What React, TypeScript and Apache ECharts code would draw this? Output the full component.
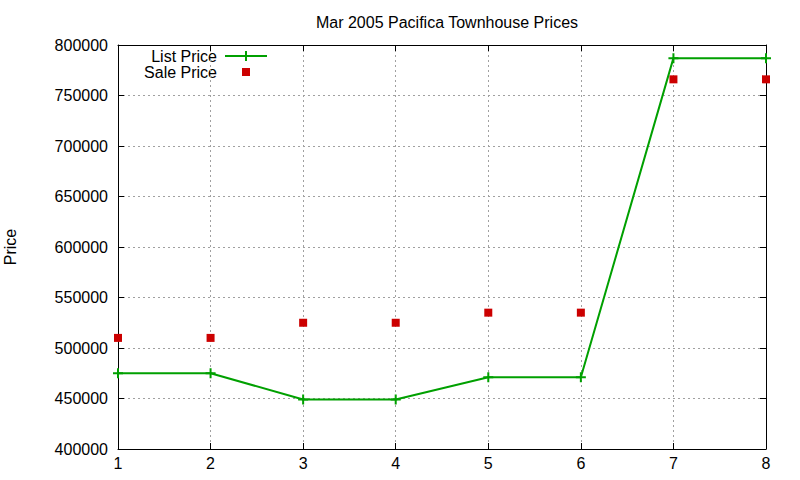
import { useEffect, useRef } from 'react'
import * as echarts from 'echarts'

const HOUSES = [1, 2, 3, 4, 5, 6, 7, 8]
const LIST_PRICE = [475000, 475000, 449000, 449000, 471000, 471000, 787000, 787000]
const SALE_PRICE = [510000, 510000, 525000, 525000, 535000, 535000, 766000, 766000]

const GREEN = '#00a000'
const RED   = '#cc0000'
const FONT  = '"Liberation Sans", Arial, sans-serif'
const PLUS  = 'path://M4,0H6V10H4Z M0,4H10V6H0Z'

export default function App() {
  const ref = useRef<HTMLDivElement>(null)

  useEffect(() => {
    if (!ref.current) return
    const chart = echarts.init(ref.current, undefined, { renderer: 'svg' })

    const gridLine = { show: true, lineStyle: { color: '#a0a0a0', type: [2, 3] as number[], width: 1 } }
    const label    = { color: '#000', fontSize: 16, fontFamily: FONT }
    const tick     = { show: true, inside: true, length: 6, lineStyle: { color: '#000' } }
    const border   = { show: true, onZero: false, lineStyle: { color: '#000', width: 1 } }

    chart.setOption({
      animation: false,
      backgroundColor: '#fff',
      title: {
        text: 'Mar 2005 Pacifica Townhouse Prices',
        left: 442, top: 9, textAlign: 'center',
        textStyle: { fontSize: 16, fontWeight: 'normal', color: '#000', fontFamily: FONT },
      },
      grid: { left: 118, right: 34, top: 45, bottom: 31, outerBoundsMode: 'none', containLabel: false },
      xAxis: [
        {
          type: 'value', min: 1, max: 8, interval: 1, position: 'bottom',
          axisLine: border, axisTick: tick, splitLine: gridLine,
          axisLabel: { ...label, margin: 6 },
        },
        {
          type: 'value', min: 1, max: 8, interval: 1, position: 'top',
          axisLine: border, axisTick: tick, splitLine: { show: false },
          axisLabel: { show: false },
        },
      ],
      yAxis: [
        {
          type: 'value', min: 400000, max: 800000, interval: 50000, position: 'left',
          name: 'Price', nameLocation: 'middle', nameGap: 100, nameRotate: 90,
          nameTextStyle: { ...label },
          axisLine: border, axisTick: tick, splitLine: gridLine,
          axisLabel: { ...label, margin: 10, formatter: (v: number) => String(v) },
        },
        {
          type: 'value', min: 400000, max: 800000, interval: 50000, position: 'right',
          axisLine: border, axisTick: tick, splitLine: { show: false },
          axisLabel: { show: false },
        },
      ],
      series: [
        {
          name: 'List Price', type: 'line',
          data: HOUSES.map((h, i) => [h, LIST_PRICE[i]]),
          symbol: PLUS, symbolSize: 10, showAllSymbol: true,
          lineStyle: { color: GREEN, width: 2 },
          itemStyle: { color: GREEN },
          z: 3,
        },
        {
          name: 'Sale Price', type: 'scatter',
          data: HOUSES.map((h, i) => [h, SALE_PRICE[i]]),
          symbol: 'rect', symbolSize: 8,
          itemStyle: { color: RED, opacity: 1 },
          z: 2,
        },
      ],
      graphic: [
        { type: 'text', x: 217, y: 56, style: { text: 'List Price', align: 'right', verticalAlign: 'middle', fontSize: 16, fontFamily: FONT, fill: '#000' } },
        { type: 'line', shape: { x1: 225, y1: 56, x2: 267, y2: 56 }, style: { stroke: GREEN, lineWidth: 2 } },
        { type: 'line', shape: { x1: 246, y1: 51, x2: 246, y2: 61 }, style: { stroke: GREEN, lineWidth: 2 } },
        { type: 'text', x: 217, y: 72, style: { text: 'Sale Price', align: 'right', verticalAlign: 'middle', fontSize: 16, fontFamily: FONT, fill: '#000' } },
        { type: 'rect', shape: { x: 242, y: 68, width: 8, height: 8 }, style: { fill: RED } },
      ],
    })

    return () => chart.dispose()
  }, [])

  return <div ref={ref} style={{ position: 'fixed', left: 0, top: 0, width: 800, height: 480 }} />
}
